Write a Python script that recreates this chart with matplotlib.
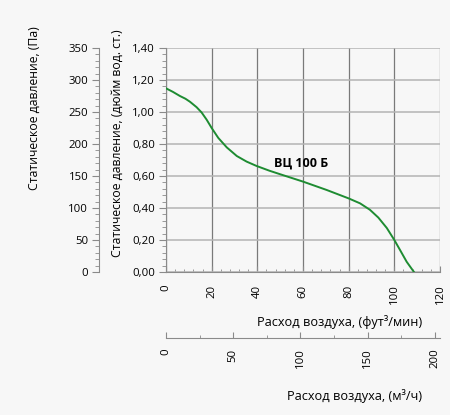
import matplotlib.pyplot as plt
from matplotlib.ticker import MultipleLocator, FuncFormatter

plt.rcParams['font.family'] = ['Open Sans', 'DejaVu Sans']

# Fan curve, ВЦ 100 Б (flow in cfm, static pressure in inch w.g.)
flow_cfm = [0, 3, 6.1, 8.5, 10.5, 13.4, 15.6, 17.8, 20, 22.9, 26.6, 31, 35.3, 39.7, 45.3,
            50, 60, 70.4, 80, 85, 89.3, 93, 96.7, 100, 102.5, 105.4, 108.6]
pressure_in = [1.148, 1.126, 1.10, 1.083, 1.064, 1.030, 0.997, 0.952, 0.900, 0.838, 0.779, 0.725,
               0.69, 0.6625, 0.633, 0.611, 0.565, 0.5125, 0.46, 0.429, 0.389, 0.340, 0.275,
               0.2, 0.1375, 0.064, 0.0]
curve_name = 'ВЦ 100 Б'

CFM_TO_M3H = 1.699
BG = '#f7f7f7'
AXC = '#8a8a8a'

fig = plt.figure(figsize=(4.5, 4.15), dpi=100, facecolor=BG)
ax = fig.add_axes([166 / 450, 143 / 415, 274 / 450, 224 / 415])
ax.set_facecolor(BG)

ax.plot(flow_cfm, pressure_in, color='#1e8c32', linewidth=1.4, zorder=3,
        solid_joinstyle='round')
ax.text(59, 0.68, curve_name, fontsize=9, fontweight='bold', ha='center', va='center')

ax.set_xlim(0, 120)
ax.set_ylim(0, 1.40)
ax.xaxis.set_major_locator(MultipleLocator(20))
ax.xaxis.set_minor_locator(MultipleLocator(4))
ax.yaxis.set_major_locator(MultipleLocator(0.2))
ax.yaxis.set_minor_locator(MultipleLocator(0.04))
ax.yaxis.set_major_formatter(FuncFormatter(lambda v, p: f'{v:.2f}'.replace('.', ',')))

ax.grid(True, axis='x', color='#7a7a7a', linewidth=0.9)
ax.grid(True, axis='y', color='#b4b4b4', linewidth=1.1)
for s in ['top', 'right']:
    ax.spines[s].set_visible(False)
for s in ['left', 'bottom']:
    ax.spines[s].set_color(AXC)
ax.tick_params(axis='y', which='major', direction='out', length=5, color=AXC, labelsize=8.2, pad=3)
ax.tick_params(axis='y', which='minor', direction='out', length=3, color=AXC)
ax.tick_params(axis='x', which='major', direction='in', length=4, color=AXC, labelsize=8.2, labelrotation=90, pad=9)
ax.tick_params(axis='x', which='minor', direction='in', length=2.5, color=AXC)
ax.set_ylabel('Статическое давление, (дюйм вод. ст.)', fontsize=8.8)
ax.yaxis.set_label_coords(-0.155, 0.574)
ax.set_xlabel('Расход воздуха, (фут³/мин)', fontsize=9.2, ha='right')
ax.xaxis.set_label_coords(0.935, -0.19)

# Pa axis, further left
ax_pa = ax.twinx()
ax_pa.set_ylim(0, 350)
ax_pa.yaxis.set_ticks_position('left')
ax_pa.yaxis.set_label_position('left')
for s in ['top', 'right', 'bottom']:
    ax_pa.spines[s].set_visible(False)
ax_pa.spines['left'].set_position(('outward', 48))
ax_pa.spines['left'].set_color(AXC)
ax_pa.yaxis.set_major_locator(MultipleLocator(50))
ax_pa.yaxis.set_minor_locator(MultipleLocator(10))
ax_pa.tick_params(axis='y', which='major', direction='out', length=5, color=AXC, labelsize=8.2, pad=3)
ax_pa.tick_params(axis='y', which='minor', direction='out', length=3, color=AXC)
ax_pa.set_ylabel('Статическое давление, (Па)', fontsize=8.8)
ax_pa.yaxis.set_label_coords(-0.458, 0.73)

# m3/h axis, further down
ax_m3 = ax.twiny()
ax_m3.set_xlim(0, 120 * CFM_TO_M3H)
ax_m3.xaxis.set_ticks_position('bottom')
ax_m3.xaxis.set_label_position('bottom')
for s in ['top', 'right', 'left']:
    ax_m3.spines[s].set_visible(False)
ax_m3.spines['bottom'].set_position(('outward', 47.5))
ax_m3.spines['bottom'].set_color(AXC)
ax_m3.xaxis.set_major_locator(MultipleLocator(50))
ax_m3.xaxis.set_minor_locator(MultipleLocator(25))
ax_m3.tick_params(axis='x', which='major', direction='in', length=4, color=AXC, labelsize=8.2, labelrotation=90, pad=7.5)
ax_m3.tick_params(axis='x', which='minor', direction='in', length=2.5, color=AXC)
ax_m3.set_xlabel('Расход воздуха, (м³/ч)', fontsize=9.2, ha='right')
ax_m3.xaxis.set_label_coords(0.935, -0.522)

fig.savefig('out.png', dpi=100, facecolor=BG)
